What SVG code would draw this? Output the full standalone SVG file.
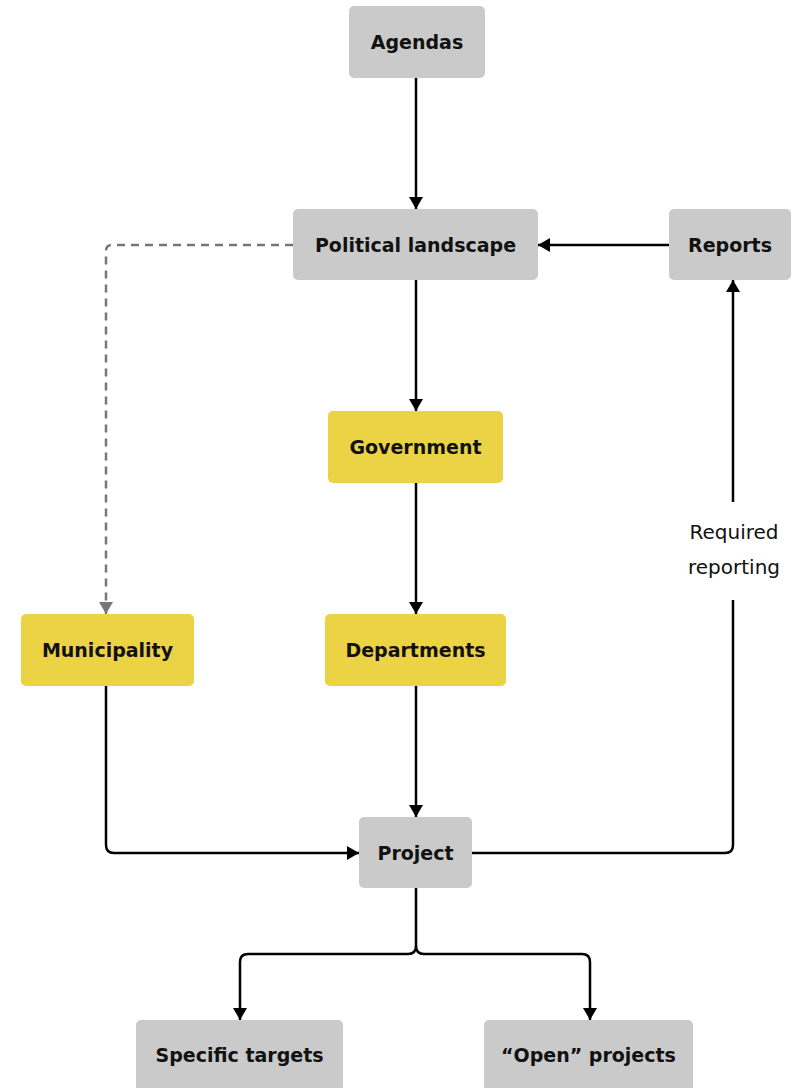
<svg xmlns="http://www.w3.org/2000/svg" width="800" height="1088" viewBox="0 0 800 1088">
  <style>
    .box-grey { fill: #cacaca; }
    .box-yellow { fill: #ecd345; }
    .label { font-family: "DejaVu Sans", "Open Sans", "Liberation Sans", sans-serif; font-weight: 700; font-size: 19px; fill: #111111; text-anchor: middle; dominant-baseline: central; }
    .note { font-family: "DejaVu Sans", "Open Sans", "Liberation Sans", sans-serif; font-weight: 400; font-size: 20px; fill: #111111; text-anchor: middle; dominant-baseline: central; }
    .edge { fill: none; stroke: #000000; stroke-width: 2.5; }
    .edge-dashed { fill: none; stroke: #777777; stroke-width: 2.5; stroke-dasharray: 8 6; }
  </style>
  <defs>
    <marker id="arrow" markerUnits="userSpaceOnUse" markerWidth="14" markerHeight="14" viewBox="0 0 12 14" refX="12" refY="7" orient="auto">
      <path d="M0,0 L12,7 L0,14 Z" fill="#000000"/>
    </marker>
    <marker id="arrow-grey" markerUnits="userSpaceOnUse" markerWidth="14" markerHeight="14" viewBox="0 0 12 14" refX="12" refY="7" orient="auto">
      <path d="M0,0 L12,7 L0,14 Z" fill="#777777"/>
    </marker>
  </defs>

  <rect width="800" height="1088" fill="#ffffff"/>

  <g id="connectors">
    <path class="edge" d="M416,78 V209" marker-end="url(#arrow)"/>
    <path class="edge" d="M669,245 H538" marker-end="url(#arrow)"/>
    <path class="edge-dashed" d="M293,245 H112 Q106,245 106,251 V614" marker-end="url(#arrow-grey)"/>
    <path class="edge" d="M416,280 V411" marker-end="url(#arrow)"/>
    <path class="edge" d="M416,483 V614" marker-end="url(#arrow)"/>
    <path class="edge" d="M416,686 V817" marker-end="url(#arrow)"/>
    <path class="edge" d="M106,686 V845 Q106,853 114,853 H359" marker-end="url(#arrow)"/>
    <path class="edge" d="M472,853 H725 Q733,853 733,845 V600"/>
    <path class="edge" d="M733,502 V280" marker-end="url(#arrow)"/>
    <path class="edge" d="M416,888 V946 Q416,954 408,954 H248 Q240,954 240,962 V1020" marker-end="url(#arrow)"/>
    <path class="edge" d="M416,946 Q416,954 424,954 H582 Q590,954 590,962 V1020" marker-end="url(#arrow)"/>
    <text class="note" x="734" y="532">Required</text>
    <text class="note" x="734" y="567">reporting</text>
  </g>

  <g id="agendas">
    <rect class="box-grey" x="349" y="6" width="136" height="72" rx="5"/>
    <text class="label" x="417" y="42">Agendas</text>
  </g>
  <g id="political-landscape">
    <rect class="box-grey" x="293" y="209" width="245" height="71" rx="5"/>
    <text class="label" x="415.5" y="244.5">Political landscape</text>
  </g>
  <g id="reports">
    <rect class="box-grey" x="669" y="209" width="122" height="71" rx="5"/>
    <text class="label" x="730" y="244.5">Reports</text>
  </g>
  <g id="government">
    <rect class="box-yellow" x="328" y="411" width="175" height="72" rx="5"/>
    <text class="label" x="415.5" y="447">Government</text>
  </g>
  <g id="municipality">
    <rect class="box-yellow" x="21" y="614" width="173" height="72" rx="5"/>
    <text class="label" x="107.5" y="650">Municipality</text>
  </g>
  <g id="departments">
    <rect class="box-yellow" x="325" y="614" width="181" height="72" rx="5"/>
    <text class="label" x="415.5" y="650">Departments</text>
  </g>
  <g id="project">
    <rect class="box-grey" x="359" y="817" width="113" height="71" rx="5"/>
    <text class="label" x="415.5" y="852.5">Project</text>
  </g>
  <g id="specific-targets">
    <rect class="box-grey" x="136" y="1020" width="207" height="80" rx="5"/>
    <text class="label" x="239.5" y="1055">Specific targets</text>
  </g>
  <g id="open-projects">
    <rect class="box-grey" x="484" y="1020" width="209" height="80" rx="5"/>
    <text class="label" x="588.5" y="1055">“Open” projects</text>
  </g>
</svg>
